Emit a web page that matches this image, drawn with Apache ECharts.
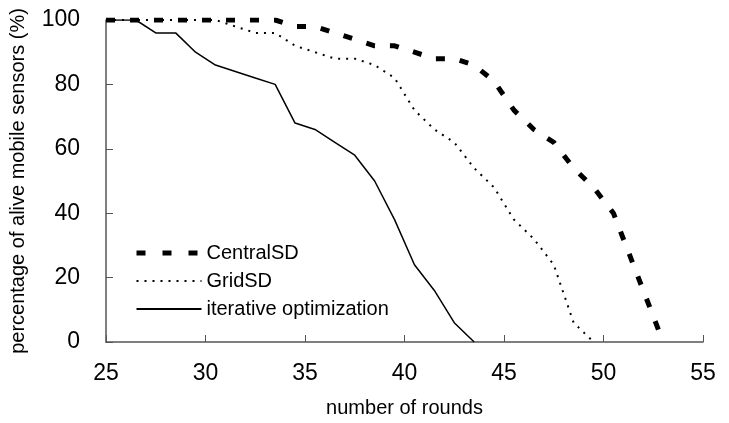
<!DOCTYPE html>
<html>
<head>
<meta charset="utf-8">
<script src="https://cdn.jsdelivr.net/npm/echarts@6/dist/echarts.min.js"></script>
<style>
  html, body { margin: 0; padding: 0; background: #fff; }
  #chart { width: 729px; height: 423px; }
</style>
</head>
<body>
<div id="chart"></div>
<script>
// rounds and percentage of alive sensors
const centralRounds = [25, 33.5, 34.5, 35.5, 36.5, 37.5, 38.5, 39.5, 40.5, 41.5, 42.5, 43.5, 44.5, 45.5, 46.5, 47.5, 48.5, 49.5, 50.5, 51.5, 52.5, 53];
const centralSD = [100, 100, 98, 98, 96, 94, 92, 92, 90, 88, 88, 86, 81, 72, 66, 62, 54, 48, 40, 24, 8, 0];

const gridRounds = [25, 30.5, 31.5, 32.5, 33.5, 34.5, 35.5, 36.5, 37.5, 38.5, 39.5, 40.5, 41.5, 42.5, 43.5, 44.5, 45.5, 46.5, 47.5, 48.5, 49.5];
const gridSD = [100, 100, 98, 96, 96, 92, 90, 88, 88, 86, 82, 72, 66, 62, 54, 48, 38, 32, 24, 6, 0];

const iterRounds = [25, 26.5, 27.5, 28.5, 29.5, 30.5, 31.5, 32.5, 33.5, 34.5, 35.5, 36.5, 37.5, 38.5, 39.5, 40.5, 41.5, 42.5, 43.5];
const iterative = [100, 100, 96, 96, 90, 86, 84, 82, 80, 68, 66, 62, 58, 50, 38, 24, 16, 6, 0];

const seriesNames = ["CentralSD", "GridSD", "iterative optimization"];

const pairs = (xs, ys) => xs.map((x, i) => [x, ys[i]]);
const font = "'Liberation Sans', Arial, sans-serif";

const chart = echarts.init(document.getElementById("chart"));

chart.setOption({
  animation: false,
  backgroundColor: "#fff",
  textStyle: { fontFamily: font, color: "#000" },
  grid: { left: 103, right: 26, top: 20, bottom: 80 },
  legend: {
    orient: "vertical",
    left: 129,
    top: 238,
    itemWidth: 65,
    itemHeight: 14,
    itemGap: 8,
    itemStyle: { opacity: 0 },
    textStyle: { fontSize: 20, fontFamily: font, color: "#000" },
    data: [
      { name: seriesNames[0], lineStyle: { width: 5, type: [9, 17] } },
      { name: seriesNames[1] },
      { name: seriesNames[2] },
    ],
  },
  xAxis: {
    type: "value",
    min: 25,
    max: 55,
    interval: 5,
    name: "number of rounds",
    nameLocation: "middle",
    nameGap: 56,
    nameTextStyle: { fontSize: 20, color: "#000" },
    axisLine: { lineStyle: { color: "#555", width: 1.5 } },
    axisTick: { inside: true, length: 7, lineStyle: { color: "#555" } },
    axisLabel: { fontSize: 23, color: "#000", margin: 20 },
    splitLine: { show: false },
  },
  yAxis: {
    type: "value",
    min: 0,
    max: 100,
    interval: 20,
    name: "percentage of alive mobile sensors (%)",
    nameLocation: "middle",
    nameGap: 78,
    nameTextStyle: { fontSize: 20, color: "#000" },
    axisLine: { show: true, lineStyle: { color: "#555", width: 1.5 } },
    axisTick: { show: true, inside: true, length: 7, lineStyle: { color: "#555" } },
    axisLabel: { fontSize: 23, color: "#000", margin: 26 },
    splitLine: { show: false },
  },
  series: [
    {
      name: seriesNames[0],
      type: "line",
      symbol: "none",
      data: pairs(centralRounds, centralSD),
      lineStyle: { color: "#000", width: 5, type: [9, 15] },
      itemStyle: { color: "#000" },
      z: 3,
    },
    {
      name: seriesNames[1],
      type: "line",
      symbol: "none",
      data: pairs(gridRounds, gridSD),
      lineStyle: { color: "#000", width: 2, type: [2, 6] },
      itemStyle: { color: "#000" },
      z: 2,
    },
    {
      name: seriesNames[2],
      type: "line",
      symbol: "none",
      data: pairs(iterRounds, iterative),
      lineStyle: { color: "#000", width: 1.5, type: "solid" },
      itemStyle: { color: "#000" },
      z: 1,
    },
  ],
});
</script>
</body>
</html>
